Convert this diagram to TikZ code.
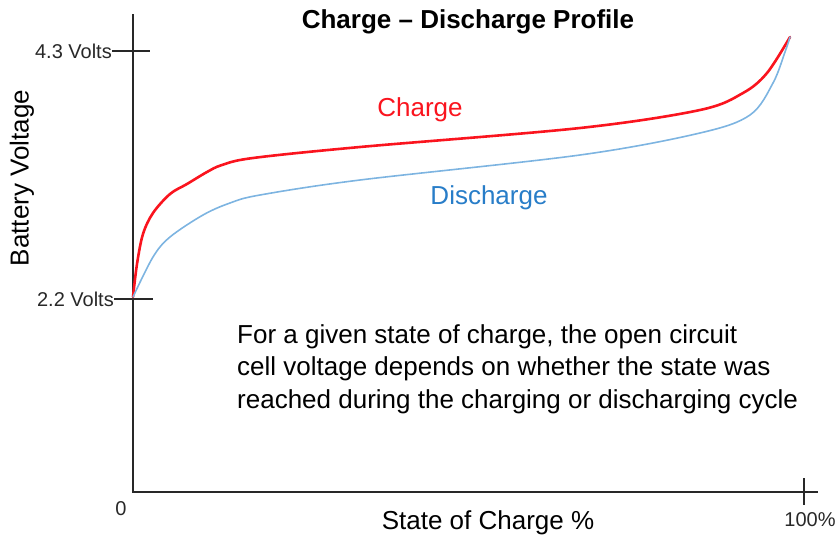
\documentclass[tikz,border=0pt]{standalone}
\usepackage{fontspec}
\setmainfont{Liberation Sans}
\usepackage{tikz}
\usetikzlibrary{positioning}
\definecolor{chargered}{RGB}{250,20,30}
\definecolor{dischargeline}{RGB}{125,180,225}
\definecolor{dischargetext}{RGB}{40,125,200}
\definecolor{axisgray}{RGB}{40,40,40}

\begin{document}
\begin{tikzpicture}[%
    x=1pt, y=-1pt,
    axis/.style={draw=axisgray, line width=2pt},
    tick/.style={draw=axisgray, line width=1.6pt},
    bigtext/.style={inner sep=0, font=\fontsize{26}{31}\selectfont},
    ticklabel/.style={inner sep=0, font=\fontsize{20}{24}\selectfont, text=axisgray},
    chargecurve/.style={draw=chargered, line width=2.6pt, line cap=round},
    dischargecurve/.style={draw=dischargeline, line width=1.6pt, line cap=round}
  ]
    \useasboundingbox (0,0) rectangle (837,541);

    % axes
    \coordinate (orig) at (133,492);
    \coordinate (ytop) at (133,14);
    \coordinate (xend) at (818,492);
    \draw[axis] (ytop) -- (orig) -- (xend);

    % ticks
    \coordinate (hi-l) at (112,51);
    \coordinate (hi-r) at (150,51);
    \coordinate (lo-l) at (114,299);
    \coordinate (lo-r) at (153,299);
    \coordinate (full-t) at (804,478);
    \coordinate (full-b) at (804,505);
    \draw[tick] (hi-l) -- (hi-r);
    \draw[tick] (lo-l) -- (lo-r);
    \draw[tick] (full-t) -- (full-b);

    \node[ticklabel, anchor=east] (hilabel) at (hi-l) {4.3 Volts};
    \node[ticklabel, anchor=east] (lolabel) at (lo-l) {2.2 Volts};
    \node[ticklabel] (zerolabel) at (121,509) {0};
    \node[ticklabel] (fulllabel) at (810,520) {100\%};

    % titles
    \node[bigtext, font=\fontsize{26}{31}\selectfont\bfseries] (title) at (468,22) {Charge -- Discharge Profile};
    \node[bigtext] (xlabel) at (488,523) {State of Charge \%};
    \node[bigtext, rotate=90] (ylabel) at (22,178) {Battery Voltage};

    % curves
    \draw[chargecurve] plot[smooth, tension=0.55] coordinates {
      (133,297) (137,264) (143,234) (153,213) (170,194) (187,184) (207,172)
      (222,165) (253,158) (360,147) (580,128) (700,110) (743,93) (767,73) (790,37)};
    \draw[dischargecurve] plot[smooth, tension=0.55] coordinates {
      (133,297) (153,257) (170,237) (203,215) (230,203) (260,195) (360,180)
      (580,155) (700,133) (750,115) (773,83) (785,52) (790,37)};

    \node[bigtext, text=chargered] (chargelabel) at (420,110) {Charge};
    \node[bigtext, text=dischargetext] (dischargelabel) at (489,198) {Discharge};

    % note
    \node[inner sep=0, anchor=west, align=left, font=\fontsize{26}{32.5}\selectfont] (note) at (237,369)
      {For a given state of charge, the open circuit\\
       cell voltage depends on whether the state was\\
       reached during the charging or discharging cycle};
\end{tikzpicture}
\end{document}
